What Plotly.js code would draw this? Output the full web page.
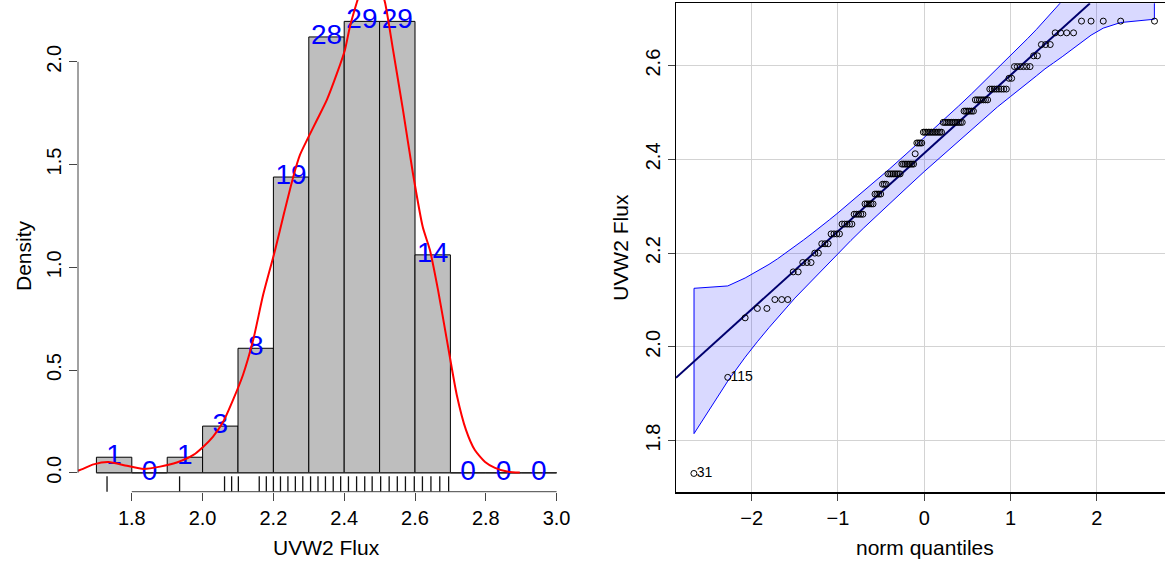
<!DOCTYPE html>
<html><head><meta charset="utf-8">
<script src="https://cdn.plot.ly/plotly-3.0.1.min.js"></script>
<style>html,body{margin:0;padding:0;background:#fff;} #chart{width:1165px;height:567px;}</style>
</head><body><div id="chart"></div>
<script>
// ---------- Left panel: histogram of UVW2 Flux ----------
const binEdges  = [1.7,1.8,1.9,2.0,2.1,2.2,2.3,2.4,2.5,2.6,2.7,2.8,2.9,3.0];
const binCounts = [1,0,1,3,8,19,28,29,29,14,0,0,0];
// kernel density curve
const densityX = [1.620,1.649,1.692,1.734,1.786,1.833,1.880,1.927,1.974,2.002,2.029,2.058,2.086,2.114,2.143,2.171,2.205,2.231,2.256,2.275,2.295,2.323,2.351,2.380,2.402,2.416,2.436,2.456,2.475,2.495,2.515,2.538,2.566,2.594,2.622,2.642,2.665,2.690,2.718,2.744,2.769,2.798,2.826,2.860,2.896];
const densityY = [0.004,0.011,0.041,0.052,0.034,0.019,0.030,0.050,0.087,0.127,0.175,0.248,0.355,0.476,0.647,0.866,1.085,1.270,1.440,1.547,1.620,1.717,1.815,1.946,2.058,2.170,2.291,2.398,2.447,2.398,2.291,2.058,1.766,1.459,1.196,1.085,0.890,0.647,0.379,0.209,0.111,0.053,0.024,0.006,0.001];

// ---------- Right panel: normal Q-Q plot ----------
// sorted sample, as distinct levels and how many points sit on each level
const fluxLevels      = [1.730,1.935,2.062,2.082,2.101,2.160,2.180,2.200,2.220,2.241,2.262,2.283,2.305,2.326,2.347,2.369,2.390,2.412,2.435,2.458,2.479,2.503,2.527,2.550,2.573,2.598,2.621,2.645,2.670,2.695];
const fluxLevelCounts = [1,1,1,2,3,2,3,2,3,4,5,5,5,4,3,8,8,1,4,12,12,6,7,8,2,6,2,3,4,5];
const idLabels = ["31","115"];           // labels of the two lowest observations
const refLineQ    = [-2.878, 1.922];     // reference line (theoretical quantile)
const refLineFlux = [1.934, 2.733];      // reference line (flux)
// confidence envelope
const envQ     = [-2.669,-2.278,-2.076,-1.935,-1.8,-1.7,-1.6,-1.5,-1.4,-1.3,-1.2,-1.1,-1.0,-0.85,-0.7,-0.55,-0.4,-0.2,0,0.2,0.4,0.55,0.7,0.85,1.0,1.1,1.2,1.3,1.4,1.5,1.6,1.7,1.8,1.935,2.076,2.278,2.669];
const envUpper = [2.125,2.130,2.147,2.161,2.176,2.188,2.201,2.214,2.228,2.242,2.256,2.271,2.286,2.309,2.332,2.356,2.380,2.413,2.446,2.480,2.514,2.540,2.567,2.593,2.621,2.639,2.658,2.677,2.697,2.716,2.737,2.757,2.779,2.809,2.842,2.893,3.001];
const envLower = [1.815,1.927,1.978,2.011,2.041,2.063,2.083,2.104,2.124,2.143,2.162,2.181,2.199,2.227,2.254,2.280,2.306,2.340,2.374,2.407,2.440,2.464,2.488,2.512,2.534,2.549,2.564,2.578,2.593,2.606,2.619,2.632,2.646,2.665,2.680,2.692,2.699];

const histXTicks = [1.8,2.0,2.2,2.4,2.6,2.8,3.0];
const histYTicks = [0,0.5,1,1.5,2];
const histYTickText = ["0.0","0.5","1.0","1.5","2.0"];
const qqXTicks = [-2,-1,0,1,2];
const qqYTicks = [1.8,2.0,2.2,2.4,2.6];
const qqYTickText = ["1.8","2.0","2.2","2.4","2.6"];

// ---------- derived quantities ----------
const n = binCounts.reduce((a,b)=>a+b,0);
const binW = binEdges[1]-binEdges[0];
const binMid = binCounts.map((c,i)=>(binEdges[i]+binEdges[i+1])/2);
const binDensity = binCounts.map(c=>c/(n*binW));

const fluxSorted = [];
fluxLevels.forEach((v,i)=>{for(let k=0;k<fluxLevelCounts[i];k++) fluxSorted.push(v);});
const uniqueFlux = fluxLevels.slice();

// inverse normal CDF (for theoretical quantiles of the Q-Q plot)
function qnorm(p){
 const a=[-3.969683028665376e+01,2.209460984245205e+02,-2.759285104469687e+02,1.383577518672690e+02,-3.066479806614716e+01,2.506628277459239e+00];
 const b=[-5.447609879822406e+01,1.615858368580409e+02,-1.556989798598866e+02,6.680131188771972e+01,-1.328068155288572e+01];
 const c=[-7.784894002430293e-03,-3.223964580411365e-01,-2.400758277161838e+00,-2.549732539343734e+00,4.374664141464968e+00,2.938163982698783e+00];
 const d=[7.784695709041462e-03,3.224671290700398e-01,2.445134137142996e+00,3.754408661907416e+00];
 const pl=0.02425, ph=1-pl; let q,r;
 if(p<pl){q=Math.sqrt(-2*Math.log(p));return (((((c[0]*q+c[1])*q+c[2])*q+c[3])*q+c[4])*q+c[5])/((((d[0]*q+d[1])*q+d[2])*q+d[3])*q+1);}
 if(p<=ph){q=p-0.5;r=q*q;return (((((a[0]*r+a[1])*r+a[2])*r+a[3])*r+a[4])*r+a[5])*q/(((((b[0]*r+b[1])*r+b[2])*r+b[3])*r+b[4])*r+1);}
 q=Math.sqrt(-2*Math.log(1-p));return -(((((c[0]*q+c[1])*q+c[2])*q+c[3])*q+c[4])*q+c[5])/((((d[0]*q+d[1])*q+d[2])*q+d[3])*q+1);
}
const m = fluxSorted.length;
const theoQ = fluxSorted.map((v,i)=>qnorm((i+0.5)/m));

const FONT = "Liberation Sans, Arial, Helvetica, sans-serif";
const W = 1165, H = 567;
const px = v=>v/W, py = v=>1-v/H;

const traces = [
 {type:'bar', x:binMid, y:binDensity, width:binW, xaxis:'x', yaxis:'y',
  marker:{color:'#BEBEBE', line:{color:'#000000', width:1}}, hoverinfo:'skip'},
 {type:'scatter', mode:'lines', x:[binEdges[0], binEdges[binEdges.length-1]], y:[0,0], xaxis:'x', yaxis:'y',
  line:{color:'#333333', width:1}, hoverinfo:'skip'},
 {type:'scatter', mode:'text', x:binMid, y:binDensity, text:binCounts.map(String), xaxis:'x', yaxis:'y',
  textposition:'middle center', textfont:{family:FONT, size:28, color:'#0000FF'}, cliponaxis:false, hoverinfo:'skip'},
 {type:'scatter', mode:'lines', x:densityX, y:densityY, xaxis:'x', yaxis:'y',
  line:{color:'#FF0000', width:2, shape:'spline', smoothing:0.6}, hoverinfo:'skip'},
 // Q-Q panel
 {type:'scatter', mode:'lines', x:envQ.concat(envQ.slice().reverse(), [envQ[0]]),
  y:envUpper.concat(envLower.slice().reverse(), [envUpper[0]]), xaxis:'x2', yaxis:'y2',
  fill:'toself', fillcolor:'rgba(0,0,255,0.15)', line:{color:'#0000FF', width:1}, hoverinfo:'skip'},
 {type:'scatter', mode:'lines', x:refLineQ, y:refLineFlux, xaxis:'x2', yaxis:'y2',
  line:{color:'#00006E', width:2}, hoverinfo:'skip'},
 {type:'scatter', mode:'markers', x:theoQ, y:fluxSorted, xaxis:'x2', yaxis:'y2',
  marker:{symbol:'circle-open', size:6, color:'#000000', line:{width:1}}, hoverinfo:'skip'},
 {type:'scatter', mode:'text', x:theoQ.slice(0,2), y:fluxSorted.slice(0,2), text:idLabels.map(s=>'\u2009'+s),
  xaxis:'x2', yaxis:'y2', textposition:'middle right', textfont:{family:FONT, size:14, color:'#000'}, hoverinfo:'skip'}
];

const shapes = [];
// rug
uniqueFlux.forEach(v=>shapes.push({type:'line', xref:'x', yref:'paper', x0:v, x1:v, y0:py(491.7), y1:py(476.3), line:{color:'#111', width:1.3}}));
// R-style axis lines for histogram
shapes.push({type:'line', xref:'x', yref:'paper', x0:histXTicks[0], x1:histXTicks[histXTicks.length-1], y0:py(491.7), y1:py(491.7), line:{color:'#444', width:1}});
shapes.push({type:'line', xref:'paper', yref:'y', x0:px(78), x1:px(78), y0:histYTicks[0], y1:histYTicks[histYTicks.length-1], line:{color:'#444', width:1}});

const axisFont = {family:FONT, size:20, color:'#000'};
const layout = {
 width:W, height:H, margin:{l:0,r:0,t:0,b:0}, paper_bgcolor:'#fff', plot_bgcolor:'rgba(0,0,0,0)',
 showlegend:false, font:{family:FONT, color:'#000'},
 xaxis:{domain:[px(78), px(575)], range:[1.648,3.052], anchor:'y', showgrid:false, zeroline:false, showline:false,
   tickvals:histXTicks, ticktext:histXTicks.map(v=>v.toFixed(1)), ticks:'outside', ticklen:8, tickcolor:'#444', tickfont:axisFont},
 yaxis:{domain:[py(491.7), 1], range:[-0.092, 2.301], anchor:'x', showgrid:false, zeroline:false, showline:false,
   tickvals:histYTicks, ticktext:histYTickText, tickangle:-90, ticks:'outside', ticklen:8, tickcolor:'#444', tickfont:axisFont},
 xaxis2:{domain:[px(676), 1], range:[-2.878, 2.792], anchor:'y2', showgrid:true, gridcolor:'#D3D3D3', gridwidth:1, zeroline:false,
   showline:true, mirror:true, linecolor:'#000', linewidth:1.5, tickvals:qqXTicks, ticks:'outside', ticklen:7, tickcolor:'#444', tickfont:axisFont},
 yaxis2:{domain:[py(492.2), py(3.3)], range:[1.690, 2.733], anchor:'x2', showgrid:true, gridcolor:'#D3D3D3', gridwidth:1, zeroline:false,
   showline:true, linecolor:'#000', linewidth:1.5, tickvals:qqYTicks, ticktext:qqYTickText, tickangle:-90, ticks:'outside', ticklen:7, tickcolor:'#444', tickfont:axisFont},
 shapes:shapes,
 annotations:[
  {text:'UVW2 Flux', xref:'paper', yref:'paper', x:px(326.5), y:py(547), showarrow:false, xanchor:'center', yanchor:'middle', font:{family:FONT,size:21,color:'#000'}},
  {text:'Density', xref:'paper', yref:'paper', x:px(23), y:py(256), showarrow:false, textangle:-90, xanchor:'center', yanchor:'middle', font:{family:FONT,size:21,color:'#000'}},
  {text:'norm quantiles', xref:'paper', yref:'paper', x:px(924.5), y:py(547), showarrow:false, xanchor:'center', yanchor:'middle', font:{family:FONT,size:21,color:'#000'}},
  {text:'UVW2 Flux', xref:'paper', yref:'paper', x:px(621), y:py(247.8), showarrow:false, textangle:-90, xanchor:'center', yanchor:'middle', font:{family:FONT,size:21,color:'#000'}}
 ]
};
Plotly.newPlot('chart', traces, layout, {displayModeBar:false, staticPlot:true});
</script></body></html>
